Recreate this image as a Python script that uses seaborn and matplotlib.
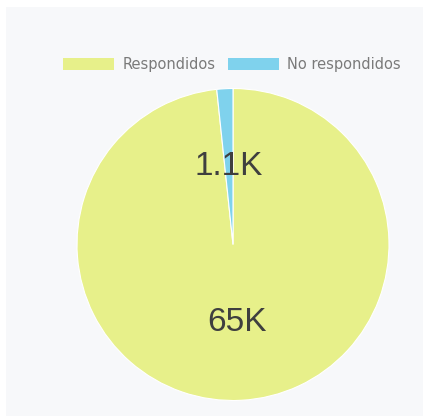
import matplotlib
matplotlib.use("Agg")
import matplotlib.pyplot as plt
from matplotlib.patches import Rectangle
import seaborn as sns

# Data
categories = ["Respondidos", "No respondidos"]
values = [65000, 1100]
colors = ["#e7f08a", "#7fd2ed"]


def short_k(v):
    k = v / 1000
    return f"{k:.0f}K" if k >= 10 else f"{k:.1f}K"


sns.set_theme(style="white")
plt.rcParams["font.family"] = ["DejaVu Sans"]

W, H = 423, 418
fig = plt.figure(figsize=(W / 100, H / 100), dpi=100, facecolor="white")

# light panel behind the chart
fig.patches.append(Rectangle((6 / W, 2 / H), 417 / W, 409 / H,
                             transform=fig.transFigure, facecolor="#f7f8fa",
                             edgecolor="none", zorder=-10))

cx, cy, r = 233, 244.5, 156
ax = fig.add_axes([(cx - r) / W, (H - cy - r) / H, 2 * r / W, 2 * r / H])
ax.set_facecolor("none")
ax.set_zorder(5)

wedges, texts = ax.pie(values, colors=colors, startangle=90, counterclock=False,
                       labels=[short_k(v) for v in values], labeldistance=0.5,
                       wedgeprops=dict(edgecolor="white", linewidth=0.8),
                       textprops=dict(fontsize=24, color="#3f3f3f",
                                      family="Liberation Sans"))
for t in texts:
    t.set_horizontalalignment("center")
    t.set_verticalalignment("center")
ax.set_xlim(-1, 1)
ax.set_ylim(-1, 1)
ax.set_aspect("equal")
ax.axis("off")

leg = fig.legend(wedges, categories, loc="center", ncol=2,
                 bbox_to_anchor=(232 / W, 1 - 64.5 / H), frameon=False,
                 fontsize=10.5, handlelength=3.5, handleheight=0.85,
                 handletextpad=0.55, columnspacing=0.9, labelcolor="#7a7a7a")
leg.set_zorder(6)
for h in leg.legend_handles:
    h.set_edgecolor("none")

fig.savefig("out.png", dpi=100, facecolor="white")
